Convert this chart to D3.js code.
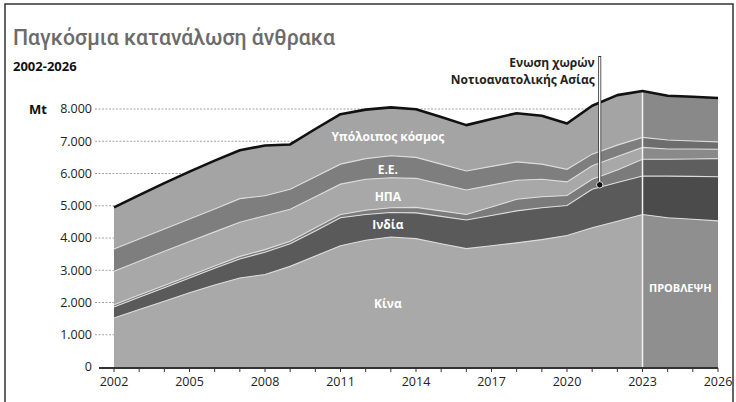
<!DOCTYPE html>
<html><head><meta charset="utf-8">
<script src="https://cdn.jsdelivr.net/npm/d3@7"></script>
<style>
html,body{margin:0;padding:0;background:#fff;}
svg{display:block;font-family:"Open Sans",sans-serif;}
</style></head>
<body><svg id="c" width="736" height="402"></svg>
<script>
const years = [2002,2003,2004,2005,2006,2007,2008,2009,2010,2011,2012,2013,2014,2015,2016,2017,2018,2019,2020,2021,2022,2023,2024,2025,2026];
const china = [1520,1780,2040,2300,2540,2760,2870,3120,3440,3760,3930,4030,3980,3820,3670,3760,3850,3950,4080,4320,4520,4730,4630,4580,4530];
const india = [340,380,420,460,520,590,690,700,780,870,800,760,800,850,890,940,990,990,930,1190,1200,1190,1290,1330,1370];
const asean = [70,70,70,70,70,80,80,80,100,100,130,150,170,170,170,260,360,340,310,310,390,520,520,540,560];
const usa   = [1040,1050,1060,1060,1060,1060,1050,990,960,940,960,930,900,830,760,680,590,540,420,420,420,370,320,310,290];
const eu    = [690,690,690,700,710,730,620,620,620,620,640,680,650,620,590,580,570,470,390,360,350,310,280,250,230];
const rest  = [1290,1360,1420,1470,1500,1500,1560,1390,1480,1550,1520,1500,1490,1460,1420,1470,1510,1500,1420,1500,1550,1440,1370,1370,1360];
const seriesKeys = ["china","india","asean","usa","eu","rest"];
const histColors = ["#a9a9a9","#5a5a5a","#7b7b7b","#a8a8a8","#7e7e7e","#a4a4a4"];
const fcstColors = ["#8f8f8f","#4b4b4b","#5e5e5e","#8a8a8a","#6d6d6d","#898989"];
const yTicks = [0,1000,2000,3000,4000,5000,6000,7000,8000];
const yTickLabels = ["0","1.000","2.000","3.000","4.000","5.000","6.000","7.000","8.000"];
const xTickLabels = [2002,2005,2008,2011,2014,2017,2020,2023,2026];
const forecastStart = 2023;
const labels = [
  {key:"china", text:"Κίνα", year:2013, v:1950},
  {key:"india", text:"Ινδία", year:2013, v:4400},
  {key:"usa",   text:"ΗΠΑ", year:2013, v:5290},
  {key:"eu",    text:"Ε.Ε.", year:2013, v:6130},
  {key:"rest",  text:"Υπόλοιπος κόσμος", year:2013, v:7130}
];

const rows = years.map((y,i)=>({year:y,china:china[i],india:india[i],asean:asean[i],usa:usa[i],eu:eu[i],rest:rest[i]}));
const stack = d3.stack().keys(seriesKeys)(rows);

const svg = d3.select("#c");
const x = d3.scaleLinear().domain([2002,2026]).range([114,718]);
const y = d3.scaleLinear().domain([0,8000]).range([367,109]);

// frame
svg.append("rect").attr("x",5).attr("y",4).attr("width",728).attr("height",400)
  .attr("fill","none").attr("stroke","#333").attr("stroke-width",1.5);

// title
const title = svg.append("text").attr("x",13).attr("y",45).attr("font-size",22).attr("fill","#6b6b6b")
  .attr("font-family","Roboto,sans-serif").attr("font-weight",500).text("Παγκόσμια κατανάλωση άνθρακα");
const tw = title.node().getComputedTextLength();
title.attr("font-size", 22*322/tw);
svg.append("text").attr("x",13).attr("y",71).attr("font-size",13).attr("font-weight","bold").attr("fill","#111")
  .text("2002-2026");

// grid
const grid = svg.append("g");
grid.selectAll("line").data(yTicks.filter(d=>d>0)).join("line")
  .attr("x1",95).attr("x2",718).attr("y1",d=>y(d)).attr("y2",d=>y(d))
  .attr("stroke","#a0a0a0").attr("stroke-width",1).attr("stroke-dasharray","2,1.5");
grid.selectAll("text").data(yTicks).join("text")
  .attr("x",92).attr("y",d=>y(d)).attr("dy","0.35em").attr("text-anchor","end")
  .attr("font-size",12.5).attr("fill","#222").text((d,i)=>yTickLabels[i]);
svg.append("text").attr("x",29).attr("y",y(8000)).attr("dy","0.35em").attr("font-size",13)
  .attr("font-weight","bold").attr("fill","#111").text("Mt");

// clips
const defs = svg.append("defs");
defs.append("clipPath").attr("id","hist").append("rect")
  .attr("x",0).attr("y",0).attr("width",x(forecastStart)).attr("height",402);
defs.append("clipPath").attr("id","fcst").append("rect")
  .attr("x",x(forecastStart)).attr("y",0).attr("width",736-x(forecastStart)).attr("height",402);

const area = d3.area().x(d=>x(d.data.year)).y0(d=>y(d[0])).y1(d=>y(d[1]));
const topLine = d3.line().x(d=>x(d.data.year)).y(d=>y(d[1]));

[["hist",histColors],["fcst",fcstColors]].forEach(([id,cols])=>{
  const g = svg.append("g").attr("clip-path",`url(#${id})`);
  g.selectAll("path.a").data(stack).join("path").attr("class","a")
    .attr("d",area).attr("fill",(d,i)=>cols[i]);
  g.selectAll("path.s").data(stack.slice(0,-1)).join("path").attr("class","s")
    .attr("d",topLine).attr("fill","none").attr("stroke","#dcdcdc").attr("stroke-width",1.1);
});

// forecast divider
svg.append("line").attr("x1",x(forecastStart)).attr("x2",x(forecastStart))
  .attr("y1",y(stack[5][years.indexOf(forecastStart)][1])).attr("y2",y(0))
  .attr("stroke","#f2f2f2").attr("stroke-width",1.5);

// total line
svg.append("path").datum(stack[5]).attr("d",topLine).attr("fill","none")
  .attr("stroke","#111").attr("stroke-width",2.6).attr("stroke-linejoin","round");

// x axis
const xa = svg.append("g");
xa.append("line").attr("x1",99).attr("x2",718).attr("y1",y(0)+1).attr("y2",y(0)+1)
  .attr("stroke","#333").attr("stroke-width",2);
xa.selectAll("line.t").data(years).join("line").attr("class","t")
  .attr("x1",d=>x(d)).attr("x2",d=>x(d)).attr("y1",y(0)+1).attr("y2",y(0)+5)
  .attr("stroke","#333").attr("stroke-width",1);
xa.selectAll("text").data(xTickLabels).join("text")
  .attr("x",d=>x(d)).attr("y",386).attr("text-anchor","middle")
  .attr("font-size",12.5).attr("fill","#222").text(d=>d);

// layer labels
svg.append("g").selectAll("text").data(labels).join("text")
  .attr("x",d=>x(d.year)-3).attr("y",d=>y(d.v)).attr("dy","0.35em").attr("text-anchor","middle")
  .attr("font-size",12).attr("font-weight","bold").attr("fill","#fff").text(d=>d.text);
svg.append("text").attr("x",(x(forecastStart)+x(2026))/2).attr("y",292).attr("text-anchor","middle")
  .attr("font-size",11).attr("font-weight","bold").attr("fill","#fff").text("ΠΡΟΒΛΕΨΗ");

// ASEAN annotation
const aIdx = years.indexOf(2021);
const dotX = x(2021.3);
const dotY = y(china[aIdx]+india[aIdx]+asean[aIdx]*0.45);
svg.append("line").attr("x1",dotX).attr("x2",dotX).attr("y1",56).attr("y2",dotY)
  .attr("stroke","#333").attr("stroke-width",3);
svg.append("line").attr("x1",dotX).attr("x2",dotX).attr("y1",57).attr("y2",dotY)
  .attr("stroke","#fff").attr("stroke-width",1.4);
svg.append("circle").attr("cx",dotX).attr("cy",dotY).attr("r",3.2).attr("fill","#111")
  .attr("stroke","#fff").attr("stroke-width",0.8);
const ann = svg.append("text").attr("text-anchor","end").attr("font-size",12).attr("font-weight","bold").attr("fill","#222");
ann.append("tspan").attr("x",dotX-5).attr("y",67).text("Ενωση χωρών");
ann.append("tspan").attr("x",dotX-5).attr("y",84).text("Νοτιοανατολικής Ασίας");
</script></body></html>
